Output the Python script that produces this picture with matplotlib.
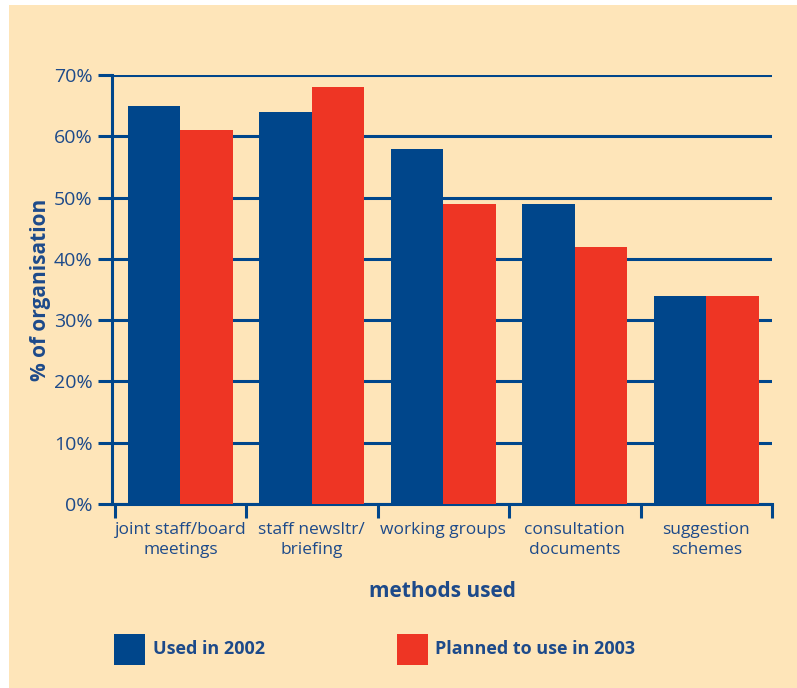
import matplotlib.pyplot as plt
import matplotlib.patches as mpatches
import numpy as np

# data
methods = ['joint staff/board\nmeetings', 'staff newsltr/\nbriefing', 'working groups',
           'consultation\ndocuments', 'suggestion\nschemes']
used_2002 = [65, 64, 58, 49, 34]
planned_2003 = [61, 68, 49, 42, 34]
yticks = [0, 10, 20, 30, 40, 50, 60, 70]

blue = '#00468b'
red = '#ee3524'
txt = '#1d4a8a'
bg = '#fee5b9'

plt.rcParams['font.family'] = ['Open Sans', 'DejaVu Sans']

fig = plt.figure(figsize=(7.97, 6.88), dpi=100)
fig.patch.set_facecolor('white')
fig.patches.append(mpatches.Rectangle((9 / 797, 0), 1, 1 - 5 / 688, transform=fig.transFigure,
                                      facecolor=bg, edgecolor='none', zorder=-10))

ax = fig.add_axes([112 / 797, 1 - 504 / 688, (772 - 112) / 797, (504 - 75) / 688])
ax.set_facecolor('none')

x = np.arange(len(methods))
w = 0.4
ax.bar(x - w / 2, used_2002, w, color=blue, zorder=3)
ax.bar(x + w / 2, planned_2003, w, color=red, zorder=3)

ax.set_xlim(-0.52, 4.5)
ax.set_ylim(0, 70)

# y axis
ax.set_yticks(yticks)
ax.set_yticklabels([f'{v}%' for v in yticks], fontsize=14, color=txt)
ax.tick_params(axis='y', length=10, width=2.2, color=blue, direction='out', pad=4)
ax.grid(axis='y', color=blue, linewidth=2.2, zorder=1)
ax.set_axisbelow(True)

# x axis: labels at centers, tick marks at group boundaries
ax.set_xticks(x)
ax.set_xticklabels(methods, fontsize=12.5, color=txt, linespacing=1.35)
ax.tick_params(axis='x', which='major', length=0, pad=13)
ax.set_xticks(np.arange(-0.5, len(methods), 1), minor=True)
ax.tick_params(axis='x', which='minor', length=10, width=2.2, color=blue, direction='out')

for s in ['top', 'right']:
    ax.spines[s].set_visible(False)
for s in ['left', 'bottom']:
    ax.spines[s].set_color(blue)
    ax.spines[s].set_linewidth(2.2)

ax.set_ylabel('% of organisation', fontsize=15, fontweight='bold', color=txt)
ax.yaxis.set_label_coords(-0.093, 0.5)
ax.set_xlabel('methods used', fontsize=15, fontweight='bold', color=txt)
ax.xaxis.set_label_coords(0.5, -0.18)

# legend drawn by hand below the chart
fig.patches.append(mpatches.Rectangle((114 / 797, 1 - 665 / 688), 31 / 797, 31 / 688,
                                      transform=fig.transFigure, facecolor=blue, edgecolor='none'))
fig.text(153 / 797, 1 - 649 / 688, 'Used in 2002', fontsize=13, fontweight='bold',
         color=txt, va='center')
fig.patches.append(mpatches.Rectangle((397 / 797, 1 - 665 / 688), 31 / 797, 31 / 688,
                                      transform=fig.transFigure, facecolor=red, edgecolor='none'))
fig.text(435 / 797, 1 - 649 / 688, 'Planned to use in 2003', fontsize=13, fontweight='bold',
         color=txt, va='center')

fig.savefig('out.png', dpi=100)
